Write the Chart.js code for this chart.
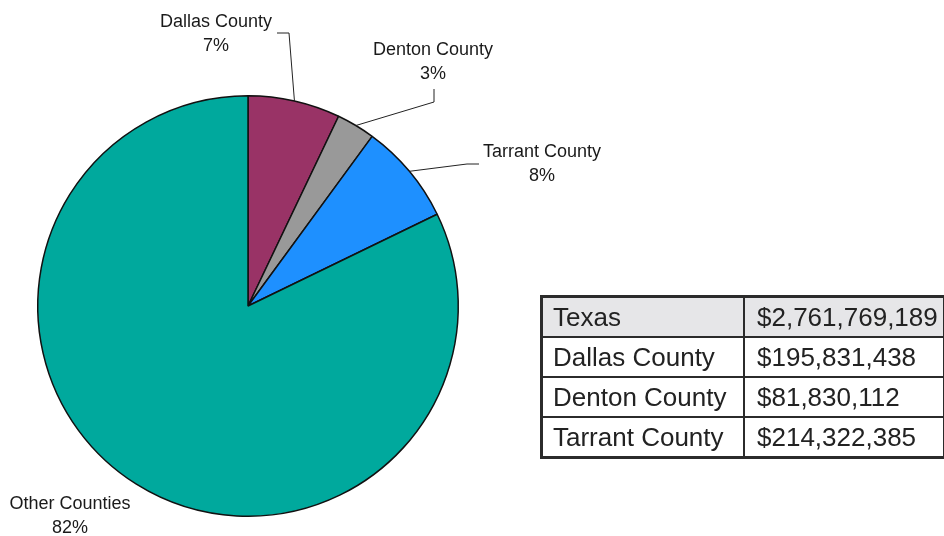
<!DOCTYPE html>
<html>
<head>
<meta charset="utf-8">
<script src="https://cdn.jsdelivr.net/npm/chart.js@4"></script>
<style>
  body { margin: 0; background: #fff; font-family: Arial, "Liberation Sans", Helvetica, sans-serif; }
  #wrap { position: relative; width: 944px; height: 536px; overflow: hidden; }
  #pie { position: absolute; left: 0; top: 0; }
  #totals {
    position: absolute; left: 540px; top: 295px; width: 406px;
    border-collapse: collapse; border: 3px solid #2b2b2b;
    font-size: 26px; color: #222;
  }
  #totals td { border: 2px solid #2b2b2b; height: 38px; padding: 0 0 0 10px; line-height: 38px; white-space: nowrap; }
  #totals td.val { padding-left: 12px; }
  #totals tr.head td { background: #e6e6e8; }
</style>
</head>
<body>
<div id="wrap">
  <canvas id="pie" width="944" height="536"></canvas>
  <table id="totals"></table>
</div>
<script>
const categories = ["Dallas County", "Denton County", "Tarrant County", "Other Counties"];
const amounts = [195831438, 81830112, 214322385, 2269785254];
const percentLabels = ["7%", "3%", "8%", "82%"];
const sliceColors = ["#993366", "#999999", "#1e90ff", "#00a99d"];

const tableNames = ["Texas", "Dallas County", "Denton County", "Tarrant County"];
const tableValues = ["$2,761,769,189", "$195,831,438", "$81,830,112", "$214,322,385"];

// where each label sits and how its leader line bends (null = no line)
const labelLayout = [
  { x: 216, y: 22, line: [[289, 33], [277, 33]] },
  { x: 433, y: 50, line: [[434, 102], [434, 89]] },
  { x: 542, y: 152, line: [[467, 164], [479, 164]] },
  { x: 70, y: 504, line: null }
];

const table = document.getElementById("totals");
tableNames.forEach((name, i) => {
  const tr = document.createElement("tr");
  if (i === 0) tr.className = "head";
  tr.innerHTML = `<td style="width:190px">${name}</td><td class="val">${tableValues[i]}</td>`;
  table.appendChild(tr);
});

const sliceLabels = {
  id: "sliceLabels",
  afterDatasetsDraw(chart) {
    const ctx = chart.ctx;
    const meta = chart.getDatasetMeta(0);
    ctx.save();
    meta.data.forEach((arc, i) => {
      const lay = labelLayout[i];
      const mid = (arc.startAngle + arc.endAngle) / 2;
      const px = arc.x + Math.cos(mid) * arc.outerRadius;
      const py = arc.y + Math.sin(mid) * arc.outerRadius;
      if (lay.line) {
        ctx.strokeStyle = "#222";
        ctx.lineWidth = 1;
        ctx.beginPath();
        ctx.moveTo(px, py);
        lay.line.forEach((p) => ctx.lineTo(p[0], p[1]));
        ctx.stroke();
      }
      ctx.fillStyle = "#1a1a1a";
      ctx.font = "18px Arial, 'Liberation Sans', Helvetica, sans-serif";
      ctx.textAlign = "center";
      ctx.textBaseline = "middle";
      ctx.fillText(categories[i], lay.x, lay.y);
      ctx.fillText(percentLabels[i], lay.x, lay.y + 24);
    });
    ctx.restore();
  }
};

new Chart(document.getElementById("pie"), {
  type: "pie",
  data: {
    labels: categories,
    datasets: [{
      data: amounts,
      backgroundColor: sliceColors,
      borderColor: "#111",
      borderWidth: 1.5
    }]
  },
  options: {
    responsive: false,
    animation: false,
    layout: { padding: { left: 37, top: 95, right: 485, bottom: 19 } },
    plugins: { legend: { display: false }, tooltip: { enabled: false } }
  },
  plugins: [sliceLabels]
});
</script>
</body>
</html>
